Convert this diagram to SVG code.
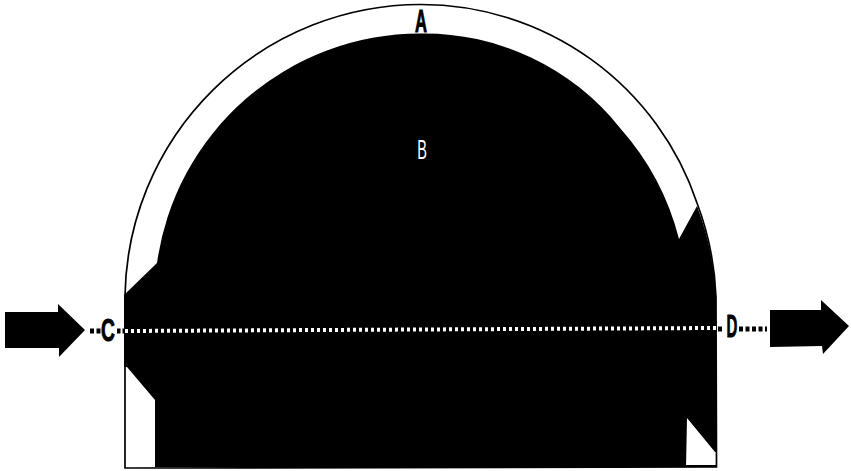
<svg xmlns="http://www.w3.org/2000/svg" width="851" height="471" viewBox="0 0 851 471">
<style>
.lab{font-family:"Liberation Sans",Arial,sans-serif;text-anchor:middle;font-size:32px}
.dk{fill:#000;font-weight:700;stroke:#000;stroke-width:1}
.lt{fill:#fff;font-size:28px}
.dots{fill:none;stroke:#000;stroke-width:5}
</style>
<rect width="851" height="471" fill="#fff"/>
<g id="shell">
<path d="M125 468 L125 296 A296 296 0 0 1 420.500 4.500 A291 291 0 0 1 697 203 A300 300 0 0 1 716 297 L716.500 467 Z" fill="#fff" stroke="#000" stroke-width="1.700"/>
</g>
<g id="core-B">
<path d="M124 295 L157 263 A266 266 0 0 1 420 33.500 A250 250 0 0 1 620 128 A265 265 0 0 1 679 239 L697 206 A300 300 0 0 1 716 297 L716 452 L715 452 L687 418 L686 467 L155 467 L155 400 L127 367 L124 367 Z" fill="#000"/>
<path d="M686 466H716" fill="none" stroke="#000" stroke-width="2"/>
<text class="lab lt" transform="translate(422 159) scale(.52 1)">B</text>
</g>
<g id="label-A">
<text class="lab dk" transform="translate(421 32) scale(.52 1)">A</text>
</g>
<g id="label-C">
<text class="lab dk" transform="translate(108 341) scale(.6 1)">C</text>
</g>
<g id="label-D">
<text class="lab dk" transform="translate(732 337) scale(.47 1)">D</text>
</g>
<g id="connectors">
<path class="dots" d="M90 331H101" stroke-dasharray="4 2.500"/>
<path class="dots" d="M117 331H124" stroke-dasharray="3.500 2"/>
<path d="M125 331L716 328" fill="none" stroke="#fff" stroke-width="4" stroke-dasharray="3 3"/>
<path class="dots" d="M718 329H722" stroke-dasharray="4 2"/>
<path class="dots" d="M739 329H767" stroke-dasharray="4 2.500"/>
</g>
<g id="arrow-in">
<path d="M5 312 L58 312 L58 304 L85 330 L59 357 L59 348 L5 348 Z" fill="#000"/>
</g>
<g id="arrow-out">
<path d="M770 310 L821 310 L821 300 L849 326 L823 354 L822 346 L770 347 Z" fill="#000"/>
</g>
</svg>
